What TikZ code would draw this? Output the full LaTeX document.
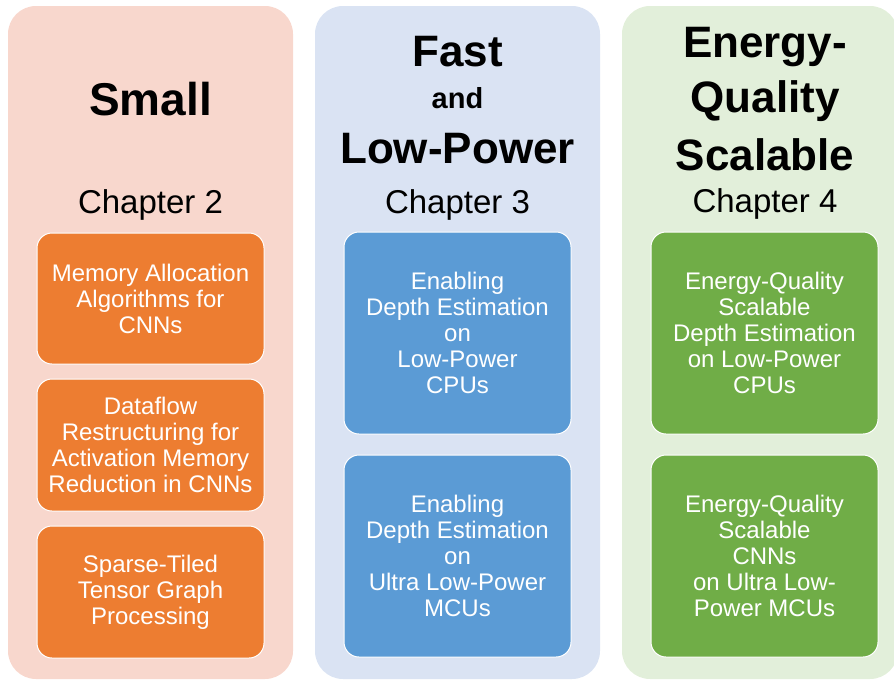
\documentclass[tikz,border=0pt]{standalone}
\usepackage{fontspec}
\setmainfont{Liberation Sans}
\definecolor{bgorange}{RGB}{248,215,205}
\definecolor{bgblue}{RGB}{218,227,243}
\definecolor{bggreen}{RGB}{226,239,218}
\definecolor{boxorange}{RGB}{237,125,49}
\definecolor{boxblue}{RGB}{91,155,213}
\definecolor{boxgreen}{RGB}{112,173,71}
\tikzset{
  panel/.style={fill=#1, draw=none, rounded corners=28pt},
  topic/.style={fill=#1, draw=white, line width=1pt, rounded corners=15pt,
    minimum width=227pt, text=white, align=center, inner sep=0pt,
    font=\fontsize{24}{26}\selectfont},
  headline/.style={anchor=base, inner sep=0pt, font=\fontsize{44}{48}\selectfont\bfseries},
  subhead/.style={anchor=base, inner sep=0pt, font=\fontsize{29}{32}\selectfont\bfseries},
  chapter/.style={anchor=base, inner sep=0pt, font=\fontsize{33}{36}\selectfont},
}
\begin{document}
\begin{tikzpicture}[x=1pt, y=-1pt]
\useasboundingbox (0,0) rectangle (894,680);
\clip (0,0) rectangle (894,680);

% column backgrounds
\fill[panel=bgorange] (8,6) rectangle (293,679);
\fill[panel=bgblue] (315,6) rectangle (600,679);
\fill[panel=bggreen] (622,6) rectangle (898,679);

% column 1: Small
\node[headline, font=\fontsize{46}{50}\selectfont\bfseries] (t1) at (150.5,115) {Small};
\node[chapter] (c2) at (150.5,213) {Chapter 2};
\node[topic=boxorange, minimum height=131pt] (a1) at (150.5,298.5)
  {Memory Allocation\\Algorithms for\\CNNs};
\node[topic=boxorange, minimum height=132pt] (a2) at (150.5,445)
  {Dataflow\\Restructuring for\\Activation Memory\\Reduction in CNNs};
\node[topic=boxorange, minimum height=132pt] (a3) at (150.5,592)
  {Sparse-Tiled\\Tensor Graph\\Processing};

% column 2: Fast and Low-Power
\node[headline] (t2a) at (457.5,66) {Fast};
\node[subhead] (t2b) at (457.5,108) {and};
\node[headline] (t2c) at (457.5,163) {Low-Power};
\node[chapter] (c3) at (457.5,213) {Chapter 3};
\node[topic=boxblue, minimum height=202pt] (b1) at (457.5,333)
  {Enabling\\Depth Estimation\\on\\Low-Power\\CPUs};
\node[topic=boxblue, minimum height=202pt] (b2) at (457.5,556)
  {Enabling\\Depth Estimation\\on\\Ultra Low-Power\\MCUs};

% column 3: Energy-Quality Scalable
\node[headline] (t3a) at (765,57) {Energy-};
\node[headline] (t3b) at (765,112) {Quality};
\node[headline] (t3c) at (765,170) {Scalable};
\node[chapter] (c4) at (765,212) {Chapter 4};
\node[topic=boxgreen, minimum height=202pt] (g1) at (764.5,333)
  {Energy-Quality\\Scalable\\Depth Estimation\\on Low-Power\\CPUs};
\node[topic=boxgreen, minimum height=202pt] (g2) at (764.5,556)
  {Energy-Quality\\Scalable\\CNNs\\on Ultra Low-\\Power MCUs};
\end{tikzpicture}
\end{document}
